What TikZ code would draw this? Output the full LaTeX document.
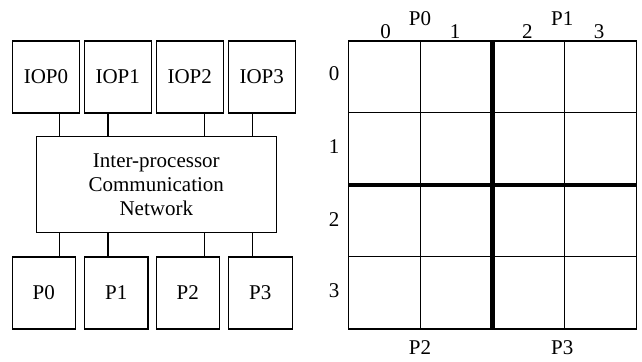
\documentclass[tikz,border=0pt]{standalone}
\usepackage{fontspec}
\setmainfont{Liberation Serif}
\usetikzlibrary{calc}

\tikzset{
	unit/.style={draw, line width=0.65pt, inner sep=0pt, minimum width=33.5pt, minimum height=36pt},
	net/.style={draw, line width=0.65pt, inner sep=0pt, minimum width=120pt, minimum height=47.8pt, align=center},
	link/.style={line width=0.65pt},
	lbl/.style={inner sep=0pt}
}

\begin{document}
\begin{tikzpicture}[x=0.5pt, y=-0.5pt, font=\fontsize{10.5}{12}\selectfont]
	
	\useasboundingbox (0,0) rectangle (642,362);
	
	% I/O processors
	\node [unit] (iop0) at (46,77) {IOP0};
	\node [unit] (iop1) at (117.7,77) {IOP1};
	\node [unit] (iop2) at (189.7,77) {IOP2};
	\node [unit] (iop3) at (261.7,77) {IOP3};
	
	\node [net] (icn) at (156.3,184.5) {Inter-processor\\Communication\\Network};
	
	% processors
	\node [unit, minimum width=31.5pt] (p0) at (43.8,293) {P0};
	\node [unit, minimum width=31.8pt] (p1) at (116.2,293) {P1};
	\node [unit, minimum width=31.5pt] (p2) at (187.8,293) {P2};
	\node [unit, minimum width=32pt] (p3) at (260.3,293) {P3};
	
	\coordinate (t0) at ($(icn.north west)!0.1!(icn.north east)$);
	\coordinate (t1) at ($(icn.north west)!0.3!(icn.north east)$);
	\coordinate (t2) at ($(icn.north west)!0.7!(icn.north east)$);
	\coordinate (t3) at ($(icn.north west)!0.9!(icn.north east)$);
	\coordinate (b0) at ($(icn.south west)!0.1!(icn.south east)$);
	\coordinate (b1) at ($(icn.south west)!0.3!(icn.south east)$);
	\coordinate (b2) at ($(icn.south west)!0.7!(icn.south east)$);
	\coordinate (b3) at ($(icn.south west)!0.9!(icn.south east)$);
	
	\foreach \i in {0,...,3} {
		\draw [link] (t\i) -- (t\i |- iop\i.south);
		\draw [link] (b\i) -- (b\i |- p\i.north);
	}
	
	% data array
	\foreach \k in {1,3} {
		\draw [line width=0.5pt] (348.7+72*\k,41) -- (348.7+72*\k,329);
		\draw [line width=0.5pt] (348.7,41+72*\k) -- (636.7,41+72*\k);
	}
	\draw [line width=2.4pt] (492.7,41) -- (492.7,329);
	\draw [line width=2.4pt] (348.7,185) -- (636.7,185);
	\draw [line width=0.65pt] (348.7,41) rectangle (636.7,329);
	
	\node [lbl] (c0) at (385.7,31.7) {0};
	\node [lbl] (c1) at (455,31.7) {1};
	\node [lbl] (c2) at (527.3,31.7) {2};
	\node [lbl] (c3) at (599,31.7) {3};
	
	\node [lbl] (r0) at (334,74) {0};
	\node [lbl] (r1) at (334,146.7) {1};
	\node [lbl] (r2) at (334,220) {2};
	\node [lbl] (r3) at (334,290.7) {3};
	
	\node [lbl] (o0) at (420,19) {P0};
	\node [lbl] (o1) at (562.3,19) {P1};
	\node [lbl] (o2) at (420,348) {P2};
	\node [lbl] (o3) at (562.3,348) {P3};
	
\end{tikzpicture}
\end{document}
